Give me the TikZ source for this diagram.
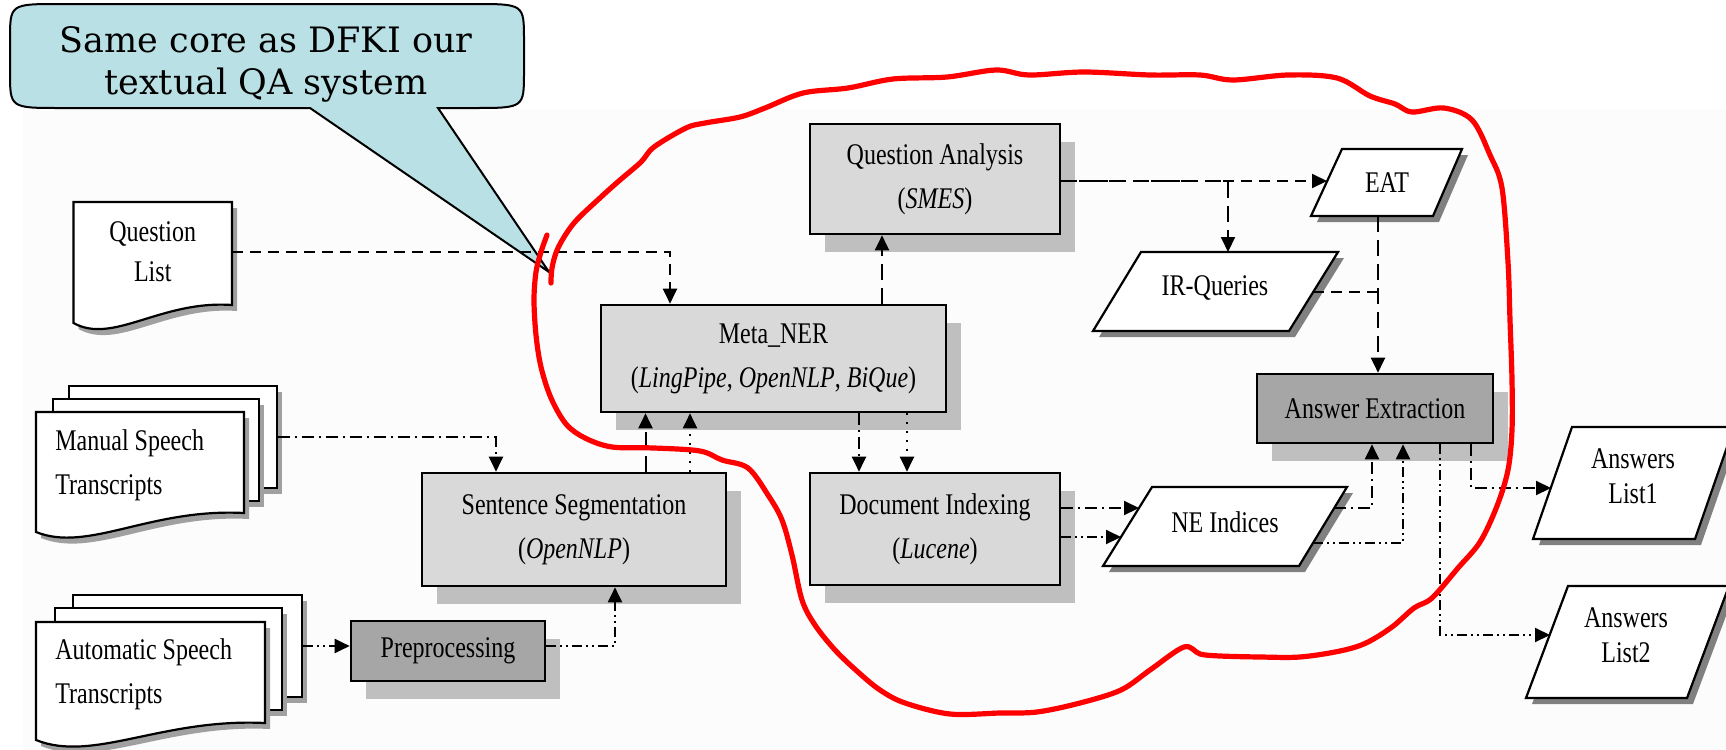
\documentclass[tikz,border=0pt]{standalone}
\usepackage{fontspec}
\setmainfont{Liberation Serif}[FakeStretch=0.8]
\newfontfamily\calfont{DejaVu Serif}
\usetikzlibrary{arrows.meta,calc,shadows}
\definecolor{boxfill}{RGB}{217,217,217}
\definecolor{darkfill}{RGB}{166,166,166}
\definecolor{boxsh}{RGB}{191,191,191}
\definecolor{parash}{RGB}{128,128,128}
\definecolor{docsh}{RGB}{160,160,160}
\definecolor{bgfill}{RGB}{252,252,252}
\definecolor{calfill}{RGB}{185,224,228}
\newcommand\paral[4]{%
  \fill[parash,shift={(6,6)}] #1 -- #2 -- #3 -- #4 -- cycle;
  \draw[line width=1.1pt,fill=white,line join=miter] #1 -- #2 -- #3 -- #4 -- cycle;}
\begin{document}
\begin{tikzpicture}[x=0.5pt,y=-0.5pt,
  txt/.style={font=\fontsize{15}{22}\selectfont, align=center, inner sep=0pt},
  tighttxt/.style={font=\fontsize{15}{17.5}\selectfont, align=center, inner sep=0pt},
  proc/.style={draw, line width=1.3pt, fill=boxfill, inner sep=0pt,
    font=\fontsize{15}{22}\selectfont, align=center,
    drop shadow={shadow xshift=7.5pt, shadow yshift=-8.75pt, fill=boxsh, opacity=1}},
  darkproc/.style={proc, fill=darkfill},
  pagebox/.style={draw, line width=1.1pt, fill=white, inner sep=0pt,
    drop shadow={shadow xshift=2.5pt, shadow yshift=-3pt, fill=docsh, opacity=1}},
  docline/.style={line width=1.1pt, fill=white},
  conn/.style={line width=1pt},
  arr/.style={-{Triangle[length=7.5pt,width=7pt]}},
  dsh/.style={dash pattern=on 5.5pt off 3.5pt},
  dshl/.style={dash pattern=on 8pt off 4pt},
  dd/.style={dash pattern=on 6pt off 2.5pt on 1pt off 2.5pt},
  ddd/.style={dash pattern=on 5pt off 2pt on 1pt off 2pt on 1pt off 2pt},
  sparsedot/.style={dash pattern=on 1pt off 3.5pt}
]
\useasboundingbox (0,0) rectangle (1726,750);
\fill[white] (0,0) rectangle (1726,750);
\fill[bgfill] (23,109) rectangle (1726,750);

% callout
\draw[line width=1pt, fill=calfill, line join=miter]
  (60,4) -- (474,4) .. controls (524,4) .. (524,40) -- (524,72)
  .. controls (524,108) .. (474,108) -- (438,108) -- (549,272) -- (310,108)
  -- (60,108) .. controls (10,108) .. (10,72) -- (10,40)
  .. controls (10,4) .. (60,4) -- cycle;
\node[font=\calfont\fontsize{17.5}{21}\selectfont, align=center, inner sep=0pt]
  (callout) at (266,64) {Same core as DFKI our\\textual QA system};

% Question List document
\fill[docsh, shift={(5,6)}] (73.5,323) -- (73.5,202) -- (232,202) -- (232,305)
  .. controls (160.7,300) and (113,345) .. (73.5,323) -- cycle;
\draw[docline] (73.5,323) -- (73.5,202) -- (232,202) -- (232,305)
  .. controls (160.7,300) and (113,345) .. (73.5,323) -- cycle;
\node[txt, font=\fontsize{15}{20}\selectfont, minimum width=79.25pt] (ql) at (152.75,252) {Question\\List};

% Manual speech transcripts
\node[pagebox, minimum width=104pt, minimum height=51pt] (manback) at (173,437) {};
\node[pagebox, minimum width=103pt, minimum height=51pt] (manmid) at (156,450) {};
\fill[docsh, shift={(5,6)}] (36,532) -- (36,412) -- (244,412) -- (244,513)
  .. controls (150,508) and (88,553) .. (36,532) -- cycle;
\draw[docline] (36,532) -- (36,412) -- (244,412) -- (244,513)
  .. controls (150,508) and (88,553) .. (36,532) -- cycle;
\node[txt, align=left, anchor=west] (man) at (55,465) {Manual Speech\\Transcripts};

% Automatic speech transcripts
\node[pagebox, minimum width=114.5pt, minimum height=51pt] (autoback) at (187.5,646) {};
\node[pagebox, minimum width=113.5pt, minimum height=51pt] (automid) at (168.5,659) {};
\fill[docsh, shift={(5,6)}] (36,740) -- (36,622) -- (265,622) -- (265,723)
  .. controls (162,718) and (93,763) .. (36,740) -- cycle;
\draw[docline] (36,740) -- (36,622) -- (265,622) -- (265,723)
  .. controls (162,718) and (93,763) .. (36,740) -- cycle;
\node[txt, align=left, anchor=west] (auto) at (55,674) {Automatic Speech\\Transcripts};

% process boxes
\node[proc, minimum width=125pt, minimum height=55pt] (qa) at (935,179)
  {Question Analysis\\(\textit{SMES})};
\node[proc, minimum width=172.5pt, minimum height=53.5pt] (meta) at (773.5,358.5)
  {Meta\_NER\\(\textit{LingPipe}, \textit{OpenNLP}, \textit{BiQue})};
\node[proc, minimum width=152pt, minimum height=56.5pt] (sent) at (574,529.5)
  {Sentence Segmentation\\(\textit{OpenNLP})};
\node[proc, minimum width=125pt, minimum height=56pt] (doc) at (935,529)
  {Document Indexing\\(\textit{Lucene})};
\node[darkproc, minimum width=97pt, minimum height=30pt] (prep) at (448,651) {Preprocessing};
\node[darkproc, minimum width=118pt, minimum height=34.5pt] (ae) at (1375,408.5) {Answer Extraction};

% parallelograms
\paral{(1342,149)}{(1462,149)}{(1433,216)}{(1311,216)}
\node[txt] (eat) at (1387,183) {EAT};
\paral{(1141,252)}{(1338,252)}{(1289,331)}{(1093,331)}
\node[txt] (ir) at (1215,288) {IR-Queries};
\paral{(1152,487)}{(1347,487)}{(1299,566)}{(1103,566)}
\node[txt] (ne) at (1225,522) {NE Indices};
\paral{(1572,427)}{(1734,427)}{(1695,539)}{(1533,539)}
\node[tighttxt] (l1) at (1633,476) {Answers\\List1};
\paral{(1568,586)}{(1729,586)}{(1687,698)}{(1526,698)}
\node[tighttxt] (l2) at (1626,635) {Answers\\List2};

% helper coordinates
\coordinate (eatin) at (1327,181);
\coordinate (eatout) at (1378,216);
\coordinate (irtop) at (1228,252);
\coordinate (irout) at (1313,292);
\coordinate (nein1) at (1139,508);
\coordinate (nein2) at (1121,537);
\coordinate (neout1) at (1334,508);
\coordinate (neout2) at (1313,543);
\coordinate (l1in) at (1551,488);
\coordinate (l2in) at (1550,635);
\coordinate (xa) at (670,0);
\coordinate (xb) at (496,0);
\coordinate (xc) at (615,0);
\coordinate (xd) at (645.5,0);
\coordinate (xe) at (690,0);
\coordinate (xf) at (882,0);
\coordinate (xg) at (859,0);
\coordinate (xh) at (907,0);
\coordinate (xi) at (1372,0);
\coordinate (xj) at (1403,0);
\coordinate (xk) at (1471,0);
\coordinate (xl) at (1440,0);

% connectors
\draw[conn,dsh,arr] (ql.east) -| (meta.north -| xa);
\draw[conn,dd,arr] (manback.east) -| (sent.north -| xb);
\draw[conn,ddd,arr] (autoback.east) -- (prep.west |- autoback.east);
\draw[conn,ddd,arr] (prep.east |- autoback.east) -| (sent.south -| xc);
\draw[conn,dshl,arr] (sent.north -| xd) -- (meta.south -| xd);
\draw[conn,sparsedot,arr] (sent.north -| xe) -- (meta.south -| xe);
\draw[conn,dshl,arr] (meta.north -| xf) -- (qa.south -| xf);
\draw[conn,dd,arr] (meta.south -| xg) -- (doc.north -| xg);
\draw[conn,sparsedot,arr] (meta.south -| xh) -- (doc.north -| xh);
\draw[conn,dsh,arr] (qa.east |- eatin) -- (eatin);
\draw[conn,dshl,arr] (qa.east |- eatin) -| (irtop);
\draw[conn,dshl,arr] (eatout) -- (ae.north -| eatout);
\draw[conn,dsh] (irout) -- (irout -| eatout);
\draw[conn,dd,arr] (doc.east |- nein1) -- (nein1);
\draw[conn,ddd,arr] (doc.east |- nein2) -- (nein2);
\draw[conn,dd,arr] (neout1) -| (ae.south -| xi);
\draw[conn,ddd,arr] (neout2) -| (ae.south -| xj);
\draw[conn,dd,arr] (ae.south -| xk) |- (l1in);
\draw[conn,ddd,arr] (ae.south -| xl) |- (l2in);

% red hand-drawn loop
\draw[red, line width=2.6pt, line cap=round, line join=round]
  plot[smooth, tension=0.55] coordinates {
  (547,235) (541,252) (536,272) (534,300) (536,335) (541,367) (551,398)
  (566,424) (585,438) (612,447) (654,448) (700,451) (722,460) (748,468)
  (768,495) (782,520) (792,555) (802,600) (815,625) (835,650) (858,672)
  (880,690) (905,703) (950,714) (1000,713) (1037,712) (1080,703) (1121,690)
  (1150,670) (1184,647) (1200,654) (1220,656) (1260,657) (1300,657)
  (1340,651) (1366,643) (1392,627) (1414,608) (1432,598) (1458,568)
  (1480,542) (1497,506) (1508,470) (1512,430) (1512,380) (1510,320)
  (1508,262) (1502,188) (1490,155) (1472,120) (1444,108) (1412,112)
  (1395,104) (1370,96) (1337,78) (1288,75) (1233,80) (1200,75) (1150,75)
  (1084,72) (1029,75) (996,70) (947,77) (893,79) (848,88) (803,93)
  (765,108) (740,117) (705,123) (686,128) (654,147) (641,162) (620,180)
  (601,197) (574,223) (558,248) (552,268) (551,283)};
\end{tikzpicture}
\end{document}
